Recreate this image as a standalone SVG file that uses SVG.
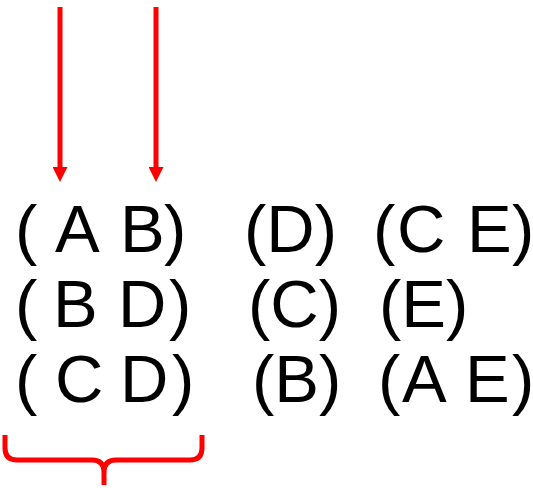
<svg xmlns="http://www.w3.org/2000/svg" width="533" height="488" viewBox="0 0 533 488">
<style>
.t{font-family:"Liberation Sans",Arial,sans-serif;font-size:67px;fill:#000}
.r{stroke:#ff0000;stroke-width:5;fill:none}
</style>
<defs>
<marker id="ah" markerWidth="3" markerHeight="3" refX="0" refY="1.5" orient="auto" markerUnits="strokeWidth">
<path d="M0,0 L3,1.5 L0,3 Z" fill="#ff0000"/>
</marker>
</defs>
<rect width="533" height="488" fill="#fff"/>
<g id="connectors">
<line class="r" x1="60" y1="7" x2="60" y2="167" marker-end="url(#ah)"/>
<line class="r" x1="156" y1="7" x2="156" y2="167" marker-end="url(#ah)"/>
<path id="brace" class="r" d="M5,435 V448 Q5,460 17,460 H92 Q104,460 104,472 V485 M104,472 Q104,460 116,460 H190 Q202,460 202,448 V435"/>
</g>
<g id="row1">
<text class="t" y="252"><tspan x="15">(</tspan><tspan x="55">A</tspan><tspan x="120">B</tspan><tspan x="164">)</tspan></text>
<text class="t" x="244" y="252">(D)</text>
<text class="t" y="252"><tspan x="373">(</tspan><tspan x="397">C</tspan><tspan x="467">E</tspan><tspan x="512">)</tspan></text>
</g>
<g id="row2">
<text class="t" y="327"><tspan x="15">(</tspan><tspan x="53">B</tspan><tspan x="118">D</tspan><tspan x="169">)</tspan></text>
<text class="t" x="248" y="327">(C)</text>
<text class="t" x="379" y="327">(E)</text>
</g>
<g id="row3">
<text class="t" y="402"><tspan x="15">(</tspan><tspan x="55">C</tspan><tspan x="120">D</tspan><tspan x="172">)</tspan></text>
<text class="t" x="252" y="402">(B)</text>
<text class="t" y="402"><tspan x="378">(</tspan><tspan x="402">A</tspan><tspan x="465">E</tspan><tspan x="512">)</tspan></text>
</g>
</svg>
